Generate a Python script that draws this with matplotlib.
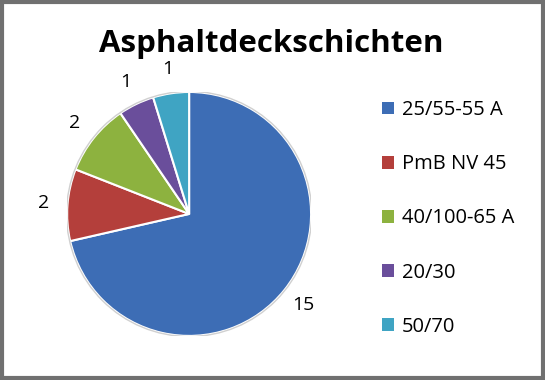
import numpy as np
import matplotlib
matplotlib.use("Agg")
import matplotlib.pyplot as plt
from matplotlib.patches import Rectangle

title = "Asphaltdeckschichten"
categories = ["25/55-55 A", "PmB NV 45", "40/100-65 A", "20/30", "50/70"]
values = [15, 2, 2, 1, 1]
colors = ["#3D6DB5", "#B43F3B", "#8DB23F", "#6A4E9B", "#3FA4C3"]

plt.rcParams['font.family'] = ['Open Sans', 'DejaVu Sans']

fig = plt.figure(figsize=(5.45, 3.8), dpi=100)
fig.patch.set_facecolor("white")

# figure border
fig.add_artist(Rectangle((0.003, 0.004), 0.994, 0.992, transform=fig.transFigure,
                         fill=False, edgecolor="#707070", linewidth=3))

ax = fig.add_axes([0.123, 0.116, 0.448, 0.642])
wedges, _ = ax.pie(values, colors=colors, startangle=90, counterclock=False,
                   radius=1.0, wedgeprops=dict(edgecolor="white", linewidth=1.5))
ax.set_xlim(-1, 1)
ax.set_ylim(-1, 1)
ax.set_aspect("equal")
ax.axis("off")

# outer subtle outline
circle = plt.Circle((0, 0), 1.005, fill=False, edgecolor="#d0d0d0", linewidth=1.0)
ax.add_artist(circle)

for w, v in zip(wedges, values):
    ang = np.deg2rad((w.theta1 + w.theta2) / 2)
    d = 1.2
    ax.text(d * np.cos(ang), d * np.sin(ang), str(v), ha="center", va="center",
            fontsize=14, color="black", clip_on=False)

fig.text(0.497, 0.885, title, ha="center", va="center", fontsize=22.5, fontweight="bold")

handles = [Rectangle((0, 0), 1, 1, facecolor=c, edgecolor="none") for c in colors]
leg = fig.legend(handles, categories, loc="upper left", bbox_to_anchor=(0.686, 0.758),
                 frameon=False, fontsize=14.5, labelspacing=1.7, handlelength=0.6,
                 handleheight=0.6, handletextpad=0.4, borderaxespad=0)

fig.savefig("out.png", dpi=100, facecolor="white")
